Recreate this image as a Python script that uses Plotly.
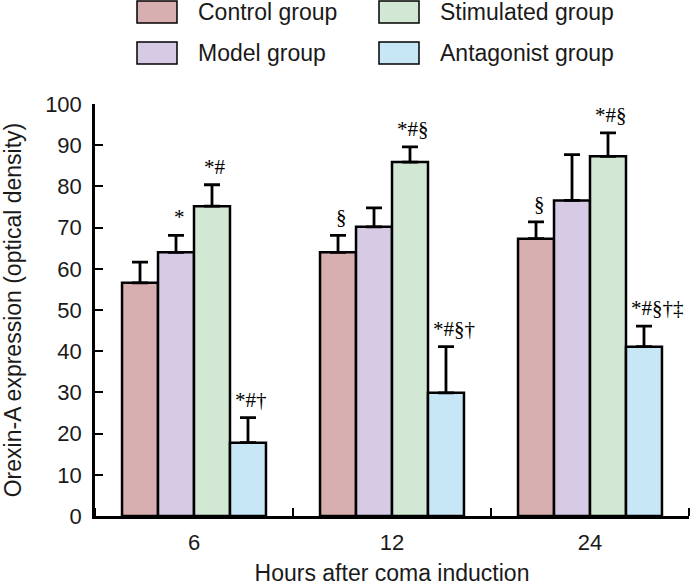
import plotly.graph_objects as go

# ---- data ----
hours = ["6", "12", "24"]
groups = ["Control group", "Model group", "Stimulated group", "Antagonist group"]
control_mean = [56.6, 64.0, 67.3]
control_err = [5.0, 4.1, 4.1]
model_mean = [64.0, 70.2, 76.6]
model_err = [4.1, 4.6, 11.1]
stim_mean = [75.2, 85.9, 87.3]
stim_err = [5.2, 3.7, 5.7]
antag_mean = [17.8, 29.9, 41.1]
antag_err = [6.1, 11.2, 5.0]
control_sig = ["", "§", "§"]
model_sig = ["*", "", ""]
stim_sig = ["*#", "*#§", "*#§"]
antag_sig = ["*#†", "*#§†", "*#§†‡"]
y_ticks = [0, 10, 20, 30, 40, 50, 60, 70, 80, 90, 100]

colors = ["#d8afb0", "#d7cae5", "#d2e8d4", "#c7e7f7"]
means = [control_mean, model_mean, stim_mean, antag_mean]
errs = [control_err, model_err, stim_err, antag_err]
sigs = [control_sig, model_sig, stim_sig, antag_sig]

W, H = 692, 586
ML, MR, MT, MB = 95, 3, 104, 70
PW, PH = W - ML - MR, H - MT - MB
BARGAP = 0.273
SANS = "Liberation Sans, Arial, sans-serif"
SERIF = "Liberation Serif, Times New Roman, serif"

xs = list(range(len(hours)))
fig = go.Figure()
for g, name in enumerate(groups):
    fig.add_trace(go.Bar(
        x=xs, y=means[g], name=name,
        marker=dict(color=colors[g], line=dict(color="black", width=2.5)),
        error_y=dict(type="data", symmetric=False, array=errs[g],
                     arrayminus=[0] * len(xs), color="black",
                     thickness=2.8, width=8),
        showlegend=False,
    ))

# significance annotations
bw = (1 - BARGAP) / 4
annotations = []
for g in range(4):
    off = (g - 1.5) * bw
    for i in xs:
        t = sigs[g][i]
        if not t:
            continue
        top = means[g][i] + errs[g][i]
        if g == 3:
            annotations.append(dict(x=i + off - bw / 2, y=top, xref="x", yref="y",
                                    text=t, showarrow=False, xanchor="left",
                                    yanchor="bottom", xshift=3, yshift=4,
                                    font=dict(family=SERIF, size=21, color="black")))
        else:
            annotations.append(dict(x=i + off, y=top, xref="x", yref="y",
                                    text=t, showarrow=False, xanchor="center",
                                    yanchor="bottom", xshift=3, yshift=4,
                                    font=dict(family=SERIF, size=21, color="black")))

# custom legend (pixel positions converted to paper coords)
def px_x(p):
    return (p - ML) / PW

def px_y(p):
    return (H - MB - p) / PH

shapes = []
leg_pos = [(137, 1), (137, 42), (379, 1), (379, 42)]
for g, (lx, ly) in enumerate(leg_pos):
    shapes.append(dict(type="rect", xref="paper", yref="paper",
                       x0=px_x(lx), x1=px_x(lx + 40), y0=px_y(ly), y1=px_y(ly + 22),
                       fillcolor=colors[g], line=dict(color="black", width=1.5)))
    annotations.append(dict(x=px_x(lx + 59), y=px_y(ly + 11), xref="paper", yref="paper",
                            text=groups[g], showarrow=False, xanchor="left",
                            yanchor="middle",
                            font=dict(family=SANS, size=23, color="#1a1a1a")))

fig.update_layout(
    width=W, height=H,
    margin=dict(l=ML, r=MR, t=MT, b=MB, autoexpand=False),
    paper_bgcolor="white", plot_bgcolor="white",
    barmode="group", bargap=BARGAP, bargroupgap=0,
    font=dict(family=SANS, size=22, color="#1a1a1a"),
    shapes=shapes, annotations=annotations,
    xaxis=dict(range=[-0.5, 2.5], tickvals=xs, ticktext=hours, ticks="",
               showline=True, linecolor="black", linewidth=2.5,
               showgrid=False, zeroline=False, ticklabelstandoff=5,
               minor=dict(tickvals=[-0.5, 0.5, 1.5, 2.5], ticks="inside",
                          ticklen=8, tickwidth=2, tickcolor="black", showgrid=False),
               title=dict(text="Hours after coma induction", standoff=24,
                          font=dict(size=23))),
    yaxis=dict(range=[0, 100], tickvals=y_ticks, ticks="inside", ticklen=8,
               tickwidth=2, tickcolor="black", showline=True, linecolor="black",
               linewidth=2.5, showgrid=False, zeroline=False, ticklabelstandoff=6,
               title=dict(text="Orexin-A expression (optical density)", standoff=22,
                          font=dict(size=23))),
)

fig.write_html("out.html", config={"displayModeBar": False},
               post_script="document.body.style.margin='0';document.body.style.padding='0';")
